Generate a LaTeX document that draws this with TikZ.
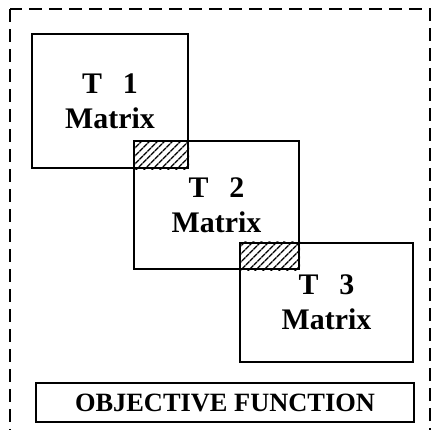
\documentclass[tikz,border=0pt]{standalone}
\usepackage{fontspec}
\setmainfont{Liberation Serif}
\usetikzlibrary{patterns.meta}

\begin{document}
\begin{tikzpicture}[x=1bp, y=-1bp,
    frame/.style={line width=2.2bp, dash pattern=on 13bp off 7bp},
    mat/.style={draw, line width=2bp, align=center, inner sep=0pt, font=\fontsize{30}{35}\selectfont\bfseries},
    obj/.style={draw, line width=2bp, inner sep=0pt, minimum width=378bp, minimum height=39bp, font=\fontsize{26.5}{28}\selectfont\bfseries},
    hatch/.style={pattern={Lines[angle=45,distance=6bp,line width=1.5bp]}}
]
\useasboundingbox (0,0) rectangle (439,429);
\draw[frame] (10,9) rectangle (430,445);

\node[mat, minimum width=156bp, minimum height=134bp] (T1) at (110,101) {T\hspace{0.7em}1\\Matrix};
\node[mat, minimum width=165bp, minimum height=128bp] (T2) at (216.5,205) {T\hspace{0.7em}2\\Matrix};
\node[mat, minimum width=173bp, minimum height=119bp] (T3) at (326.5,302) {T\hspace{0.7em}3\\Matrix};

\fill[hatch] (T2.north west) rectangle (T1.south east);
\fill[hatch] (T3.north west) rectangle (T2.south east);

\node[obj] (OF) at (225,402.5) {OBJECTIVE FUNCTION};
\end{tikzpicture}
\end{document}
